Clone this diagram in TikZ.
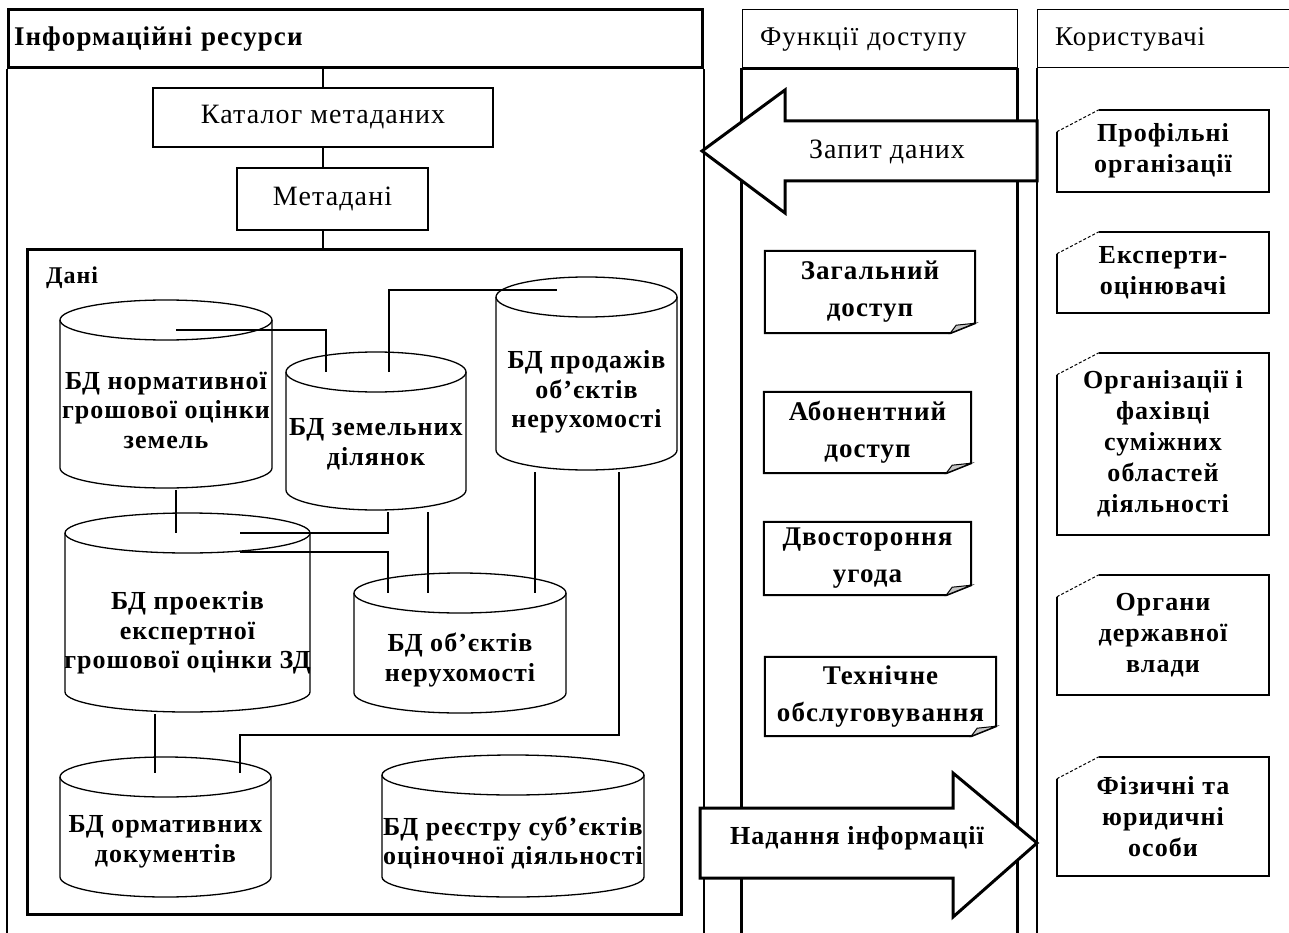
\documentclass[tikz,border=0pt]{standalone}
\usepackage{fontspec}
\setmainfont{Liberation Serif}[LetterSpace=4]

\tikzset{
  panel/.style={draw, line width=1pt, minimum height=58pt, inner sep=0pt, align=left,
    font=\fontsize{27}{30}\selectfont},
  wall/.style={line width=2pt},
  fatwall/.style={line width=3pt},
  box/.style={draw, line width=2.5pt, inner sep=0pt, align=center,
    font=\fontsize{28}{32}\selectfont},
  cyl/.style={line width=1.3pt},
  cyltext/.style={inner sep=0pt, align=center, font=\bfseries\fontsize{26}{29.5}\selectfont},
  link/.style={line width=1.5pt},
  doc/.style={inner sep=0pt, align=center, font=\bfseries\fontsize{27}{37}\selectfont},
  card/.style={inner sep=0pt, align=center, minimum width=212pt,
    font=\bfseries\fontsize{26}{31}\selectfont},
  bigarrow/.style={draw, line width=3pt, fill=white, line join=miter},
}

% database cylinder: name, left, right, top, bottom, text y, text
\newcommand\dbcyl[7]{%
  \draw[cyl] (#2,-#4-20) -- (#2,-#5+20)
    arc[start angle=180, end angle=360, x radius={(#3-#2)/2}, y radius=20] -- (#3,-#4-20);
  \draw[cyl] ({(#2+#3)/2},-#4-20) ellipse[x radius={(#3-#2)/2}, y radius=20];
  \node[cyltext] (#1) at ({(#2+#3)/2},-#6) {#7};
}

\begin{document}
\begin{tikzpicture}[x=1pt,y=1pt]
  \useasboundingbox (0,0) rectangle (1289,-933);
  \coordinate (bot) at (0,-940);

  % lane headers
  \node[panel, line width=3pt, minimum width=694pt, text width=682pt,
    font=\bfseries\fontsize{27}{30}\selectfont] (res) at (355,-39) {Інформаційні ресурси};
  \node[panel, minimum width=275pt, text width=239pt] (func) at (879.5,-39) {Функції доступу};
  \node[panel, minimum width=263pt, text width=227pt] (users) at (1168.5,-39) {Користувачі};

  % lane walls
  \draw[wall] (res.south west) -- (res.south west |- bot);
  \draw[wall] (res.south east) -- (res.south east |- bot);
  \draw[fatwall] (func.south west) -- (func.south east);
  \draw[fatwall] (func.south west) -- (func.south west |- bot);
  \draw[fatwall] (func.south east) -- (func.south east |- bot);
  \draw[wall] (users.south west) -- (users.south west |- bot);

  % metadata chain
  \node[box, minimum width=340pt, minimum height=59pt] (cat) at (323,-117.5) {Каталог метаданих};
  \node[box, minimum width=191pt, minimum height=62pt] (meta) at (332.5,-199) {Метадані};
  \node[box, line width=3pt, minimum width=654pt, minimum height=665pt] (data) at (354,-581.5) {};
  \node[anchor=west, inner sep=0pt, font=\bfseries\fontsize{24}{28}\selectfont] (datalbl) at (46,-278) {Дані};
  \draw[link] (cat.north |- res.south) -- (cat.north);
  \draw[link] (cat.south) -- (cat.south |- meta.north);
  \draw[link] (cat.south |- meta.south) -- (cat.south |- data.north);

  % databases
  \dbcyl{norm}{60}{272}{300}{488}{410}{БД нормативної\\грошової оцінки\\земель}
  \dbcyl{land}{286}{466}{352}{510}{444}{БД земельних\\ділянок}
  \dbcyl{sales}{496}{677}{277}{470}{392}{БД продажів\\об’єктів\\нерухомості}
  \dbcyl{proj}{65}{310}{513}{712}{633}{БД проектів\\експертної\\грошової оцінки ЗД}
  \dbcyl{estate}{354}{566}{573}{713}{660}{БД об’єктів\\нерухомості}
  \dbcyl{docs}{60}{271}{757}{897}{842}{БД ормативних\\документів}
  \dbcyl{reg}{382}{644}{755}{897}{843}{БД реєстру суб’єктів\\оціночної діяльності}

  \coordinate (normtop) at (176,-330);
  \coordinate (normbot) at (176,-490);
  \coordinate (landtop1) at (326,-372);
  \coordinate (landtop2) at (389,-372);
  \coordinate (landbot1) at (388,-512);
  \coordinate (landbot2) at (428,-512);
  \coordinate (salestop) at (557,-290);
  \coordinate (salesbot1) at (535,-472);
  \coordinate (salesbot2) at (619,-472);
  \coordinate (projtop1) at (176,-533);
  \coordinate (projtop2) at (240,-533);
  \coordinate (projtop3) at (240,-552);
  \coordinate (projbot) at (155,-714);
  \coordinate (estatetop1) at (388,-593);
  \coordinate (estatetop2) at (428,-593);
  \coordinate (estatetop3) at (535,-593);
  \coordinate (bend) at (240,-735);
  \coordinate (docstop1) at (155,-773);
  \coordinate (docstop2) at (240,-773);

  \draw[link] (normtop) -| (landtop1);
  \draw[link] (landtop2) |- (salestop);
  \draw[link] (normbot) -- (projtop1);
  \draw[link] (landbot1) |- (projtop2);
  \draw[link] (projtop3) -| (estatetop1);
  \draw[link] (landbot2) -- (estatetop2);
  \draw[link] (salesbot1) -- (estatetop3);
  \draw[link] (salesbot2) |- (bend) -- (docstop2);
  \draw[link] (projbot) -- (docstop1);

  % access functions
  \node[doc, minimum width=210pt, minimum height=82pt] (general) at (870,-292) {Загальний\\доступ};
  \node[doc, minimum width=207pt, minimum height=81pt] (subscr) at (867.5,-432.5) {Абонентний\\доступ};
  \node[doc, minimum width=207pt, minimum height=73pt] (bilat) at (867.5,-558.5) {Двостороння\\угода};
  \node[doc, minimum width=231pt, minimum height=79pt] (service) at (880.5,-696.5) {Технічне\\обслуговування};
  \foreach \n in {general,subscr,bilat,service} {
    \draw[line width=2pt] (\n.north west) -- (\n.north east) -- ([yshift=10pt]\n.south east)
      -- ([xshift=-25pt]\n.south east) -- (\n.south west) -- cycle;
    \filldraw[fill=gray!45, line width=1pt] ([xshift=-25pt]\n.south east)
      -- ([xshift=-19pt,yshift=8pt]\n.south east) -- ([yshift=10pt]\n.south east) -- cycle;
  }

  % users
  \node[card, minimum height=82pt] (prof) at (1163,-151) {Профільні\\організації};
  \node[card, minimum height=81pt] (expert) at (1163,-272.5) {Експерти-\\оцінювачі};
  \node[card, minimum height=182pt] (orgs) at (1163,-444) {Організації і\\фахівці\\суміжних\\областей\\діяльності};
  \node[card, minimum height=120pt] (gov) at (1163,-635) {Органи\\державної\\влади};
  \node[card, minimum height=119pt] (persons) at (1163,-816.5) {Фізичні та\\юридичні\\особи};
  \foreach \n in {prof,expert,orgs,gov,persons} {
    \draw[line width=2pt] ([xshift=42pt]\n.north west) -- (\n.north east) -- (\n.south east)
      -- (\n.south west) -- ([yshift=-22pt]\n.north west);
    \draw[line width=1pt, densely dashed] ([yshift=-22pt]\n.north west) -- ([xshift=42pt]\n.north west);
  }

  % request and delivery arrows
  \coordinate (reqtip) at (702,-151);
  \coordinate (reqend) at (1037,-151);
  \draw[bigarrow] (reqtip) -- (785,-90) -- (785,-121) -- (reqend |- 0,-121)
    -- (reqend |- 0,-181) -- (785,-181) -- (785,-213) -- cycle;
  \node[font=\fontsize{28}{30}\selectfont] (request) at (887,-152) {Запит даних};

  \coordinate (deltail) at (700,-843);
  \coordinate (deltip) at (1037,-843);
  \draw[bigarrow] (deltail |- 0,-808) -- (953,-808) -- (953,-773) -- (deltip)
    -- (953,-917) -- (953,-878) -- (deltail |- 0,-878) -- cycle;
  \node[font=\bfseries\fontsize{26}{30}\selectfont] (deliver) at (857,-838) {Надання інформації};
\end{tikzpicture}
\end{document}
